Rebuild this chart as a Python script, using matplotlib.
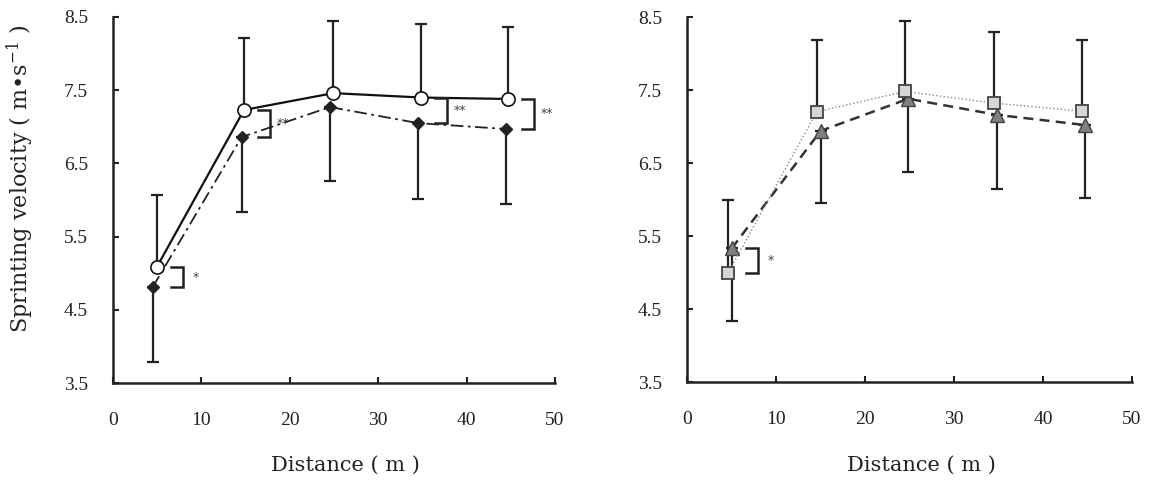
import matplotlib
matplotlib.use('Agg')
import matplotlib.pyplot as plt
import numpy as np

# ---------------- data ----------------
x_ticks = [0, 10, 20, 30, 40, 50]
y_ticks = [3.5, 4.5, 5.5, 6.5, 7.5, 8.5]
y_tick_labels = ['3.5', '4.5', '5.5', '6.5', '7.5', '8.5']

# Left panel: open circles (solid line) and filled diamonds (dash-dot line)
left_x_a = [4.94, 14.82, 24.92, 34.84, 44.72]
left_mean_a = [5.08, 7.23, 7.46, 7.40, 7.38]
left_upper_a = [6.07, 8.21, 8.44, 8.40, 8.37]
left_x_b = [4.49, 14.56, 24.55, 34.54, 44.42]
left_mean_b = [4.81, 6.86, 7.27, 7.05, 6.97]
left_lower_b = [3.79, 5.84, 6.26, 6.02, 5.95]
left_sig_index = [0, 1, 3, 4]
left_sig_label = ['*', '**', '**', '**']

# Right panel: grey squares (dotted line) and dark-grey triangles (dashed line)
right_x_a = [4.64, 14.57, 24.49, 34.49, 44.35]
right_mean_a = [5.00, 7.20, 7.48, 7.32, 7.21]
right_upper_a = [6.00, 8.19, 8.45, 8.29, 8.19]
right_x_b = [5.02, 15.02, 24.87, 34.80, 44.72]
right_mean_b = [5.33, 6.94, 7.38, 7.16, 7.02]
right_lower_b = [4.33, 5.95, 6.37, 6.15, 6.02]
right_sig_index = [0]
right_sig_label = ['*']

x_label = 'Distance ( m )'
y_label = r'Sprinting velocity ( m•s$^{-1}$ )'

# ---------------- styling ----------------
plt.rcParams['mathtext.fontset'] = 'dejavuserif'
TICK_FONT = dict(family='Liberation Serif', size=14, color='#222222')
XLABEL_FONT = dict(family='DejaVu Serif', size=15, color='#222222')
YLABEL_FONT = dict(family='DejaVu Serif', size=16, color='#222222')

W, H = 1152, 486
fig = plt.figure(figsize=(W / 100, H / 100), dpi=100)

ax_l = fig.add_axes([113 / W, 1 - 383 / H, (555 - 113) / W, (383 - 17) / H])
ax_r = fig.add_axes([687 / W, 1 - 382 / H, (1132 - 687) / W, (382 - 17) / H])


def style_axes(ax):
    ax.set_xlim(0, 50)
    ax.set_ylim(3.5, 8.5)
    for s in ('top', 'right'):
        ax.spines[s].set_visible(False)
    for s in ('left', 'bottom'):
        ax.spines[s].set_linewidth(1.8)
        ax.spines[s].set_color('#222222')
        ax.spines[s].set_capstyle('projecting')
    ax.set_xticks(x_ticks)
    ax.set_yticks(y_ticks)
    ax.set_xticklabels([str(t) for t in x_ticks], **TICK_FONT)
    ax.set_yticklabels(y_tick_labels, **TICK_FONT)
    ax.tick_params(axis='both', direction='in', length=4, width=1.5, color='#222222')
    ax.tick_params(axis='x', pad=21)
    ax.tick_params(axis='y', pad=18)
    ax.patch.set_alpha(0)


def bracket(ax, x_ref, y_top, y_bot, label):
    x0 = x_ref + 1.6
    x1 = x_ref + 2.95
    ax.plot([x0, x1, x1, x0], [y_top, y_top, y_bot, y_bot], color='#222222',
            lw=1.8, solid_joinstyle='miter', zorder=5, clip_on=False)
    ax.text(x_ref + 4.4, (y_top + y_bot) / 2, label, fontsize=9, color='#444444',
            ha='center', va='center', family='DejaVu Sans', clip_on=False)


# ---------------- left panel ----------------
ax = ax_l
style_axes(ax)
mean_a = np.array(left_mean_a)
mean_b = np.array(left_mean_b)
ax.errorbar(left_x_a, mean_a, yerr=[np.zeros_like(mean_a), np.array(left_upper_a) - mean_a],
            fmt='none', ecolor='#222222', elinewidth=1.6, capsize=4.5, capthick=1.6, zorder=2)
ax.errorbar(left_x_b, mean_b, yerr=[mean_b - np.array(left_lower_b), np.zeros_like(mean_b)],
            fmt='none', ecolor='#222222', elinewidth=1.6, capsize=4.5, capthick=1.6, zorder=2)
ax.plot(left_x_b, mean_b, color='#222222', lw=1.3, dashes=(7, 2.5, 1.5, 2.5),
        marker='D', ms=6, mfc='#222222', mec='#222222', zorder=3, clip_on=False)
ax.plot(left_x_a, mean_a, color='#111111', lw=1.6, ls='-',
        marker='o', ms=9.5, mfc='white', mec='#111111', mew=1.2, zorder=4, clip_on=False)
for i, lab in zip(left_sig_index, left_sig_label):
    bracket(ax, left_x_a[i], max(mean_a[i], mean_b[i]), min(mean_a[i], mean_b[i]), lab)

# ---------------- right panel ----------------
ax = ax_r
style_axes(ax)
mean_a = np.array(right_mean_a)
mean_b = np.array(right_mean_b)
ax.errorbar(right_x_a, mean_a, yerr=[np.zeros_like(mean_a), np.array(right_upper_a) - mean_a],
            fmt='none', ecolor='#222222', elinewidth=1.6, capsize=4.5, capthick=1.6, zorder=2)
ax.errorbar(right_x_b, mean_b, yerr=[mean_b - np.array(right_lower_b), np.zeros_like(mean_b)],
            fmt='none', ecolor='#222222', elinewidth=1.6, capsize=4.5, capthick=1.6, zorder=2)
ax.plot(right_x_b, mean_b, color='#333333', lw=1.8, dashes=(4, 2.5),
        marker='^', ms=10, mfc='#808080', mec='#444444', mew=1.0, zorder=3, clip_on=False)
ax.plot(right_x_a, mean_a, color='#888888', lw=1.0, ls=':',
        marker='s', ms=9, mfc='#d6d6d6', mec='#444444', mew=1.3, zorder=4, clip_on=False)
for i, lab in zip(right_sig_index, right_sig_label):
    bracket(ax, right_x_b[i], max(mean_a[i], mean_b[i]), min(mean_a[i], mean_b[i]), lab)

# ---------------- axis labels ----------------
fig.text(345 / W, 1 - 465 / H, x_label, ha='center', va='center', **XLABEL_FONT)
fig.text(921 / W, 1 - 465 / H, x_label, ha='center', va='center', **XLABEL_FONT)
fig.text(20 / W, 1 - 179 / H, y_label, ha='center', va='center', rotation=90, **YLABEL_FONT)

fig.savefig('out.png', dpi=100, facecolor='white')
